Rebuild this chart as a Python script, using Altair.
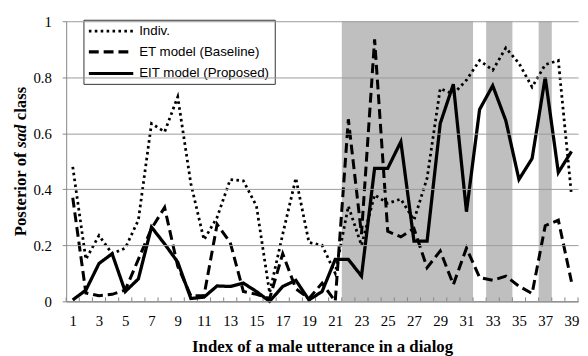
import altair as alt
import pandas as pd

# ---- data ----
idx = list(range(1, 40))
indiv = [0.48, 0.15, 0.235, 0.17, 0.19, 0.29, 0.635, 0.605, 0.73, 0.42,
         0.22, 0.30, 0.435, 0.43, 0.34, 0.03, 0.24, 0.44, 0.21, 0.20,
         0.10, 0.34, 0.20, 0.38, 0.35, 0.365, 0.29, 0.44, 0.76, 0.74,
         0.79, 0.86, 0.825, 0.905, 0.85, 0.765, 0.845, 0.86, 0.38]
et = [0.37, 0.03, 0.02, 0.025, 0.04, 0.15, 0.26, 0.335, 0.125, 0.02,
      0.02, 0.275, 0.21, 0.035, 0.025, 0.01, 0.17, 0.045, 0.01, 0.065,
      0.0, 0.65, 0.24, 0.935, 0.25, 0.23, 0.26, 0.12, 0.18, 0.06,
      0.19, 0.085, 0.075, 0.09, 0.054, 0.028, 0.27, 0.29, 0.07]
eit = [0.005, 0.04, 0.135, 0.17, 0.035, 0.08, 0.265, 0.205, 0.14, 0.01,
       0.015, 0.055, 0.053, 0.065, 0.035, 0.0, 0.053, 0.075, 0.005, 0.035,
       0.15, 0.15, 0.09, 0.475, 0.475, 0.57, 0.215, 0.215, 0.635, 0.775,
       0.32, 0.685, 0.77, 0.645, 0.435, 0.51, 0.80, 0.46, 0.535]
series_names = ["Indiv.", "ET model (Baseline)", "EIT model (Proposed)"]
shade_start = [22, 33, 37]
shade_end = [31, 34, 37]
x_label_values = list(range(1, 40, 2))
y_tick_values = [0, 0.2, 0.4, 0.6, 0.8, 1.0]

W, H = 519, 284
dash_styles = [[2.6, 3.4], [10, 5], [1, 0]]
stroke_widths = [2.8, 3.3, 3]

df = pd.DataFrame({
    "idx": idx * 3,
    "value": indiv + et + eit,
    "series": [n for n in series_names for _ in idx],
})
shade_df = pd.DataFrame({"start": [s - 0.5 for s in shade_start],
                         "end": [e + 0.5 for e in shade_end]})
tick_df = pd.DataFrame({"b": [i + 0.5 for i in range(0, 40)]})

xscale = alt.Scale(domain=[0.5, 39.5], nice=False, zero=False)
yscale = alt.Scale(domain=[0, 1], nice=False)

x_axis = alt.Axis(values=x_label_values, format="d",
                  title="Index of a male utterance in a dialog",
                  ticks=False, grid=False, labelFlush=False, labelOverlap=False,
                  labelFont="Liberation Serif", labelFontSize=15, labelPadding=13,
                  labelColor="black", titleFont="Liberation Serif", titleFontSize=17,
                  titleFontWeight="bold", titleColor="black",
                  titleBaseline="alphabetic", titleY=51,
                  domainColor="#868686", domainWidth=1.5)
y_axis = alt.Axis(values=y_tick_values, format=".1~f", title=None,
                  grid=True, gridColor="#9a9a9a", gridWidth=1,
                  ticks=True, tickSize=4, tickColor="#868686",
                  labelFont="Liberation Serif", labelFontSize=15, labelPadding=11,
                  labelColor="black", domainColor="#868686", domainWidth=1,
                  zindex=1)

shade = alt.Chart(shade_df).mark_rect(color="#bfbfbf").encode(
    x=alt.X("start:Q", scale=xscale, axis=x_axis),
    x2="end:Q",
    y=alt.value(0), y2=alt.value(H),
)

ticks = alt.Chart(tick_df).mark_rule(color="#868686", strokeWidth=1).encode(
    x=alt.X("b:Q", scale=xscale, axis=x_axis),
    y=alt.value(H), y2=alt.value(H - 4),
)

lines = alt.Chart(df).mark_line(color="black").encode(
    x=alt.X("idx:Q", scale=xscale, axis=x_axis),
    y=alt.Y("value:Q", scale=yscale, axis=y_axis),
    strokeDash=alt.StrokeDash("series:N", scale=alt.Scale(domain=series_names, range=dash_styles), legend=None),
    strokeWidth=alt.StrokeWidth("series:N", scale=alt.Scale(domain=series_names, range=stroke_widths), legend=None),
)

# ---- manual legend ----
legend_box = alt.Chart(pd.DataFrame({"a": [0]})).mark_rect(
    fill="white", stroke="#333333", strokeWidth=1).encode(
    x=alt.value(18), x2=alt.value(212), y=alt.value(-1), y2=alt.value(64))

row_y = [10, 31, 53]
legend_layers = []
for i, name in enumerate(series_names):
    d = pd.DataFrame({"name": [name]})
    legend_layers.append(
        alt.Chart(d).mark_rule(color="black", strokeDash=dash_styles[i],
                               strokeWidth=stroke_widths[i]).encode(
            x=alt.value(23), x2=alt.value(68), y=alt.value(row_y[i])))
    legend_layers.append(
        alt.Chart(d).mark_text(align="left", baseline="middle", font="Liberation Sans",
                               fontSize=13.5, color="black").encode(
            x=alt.value(74), y=alt.value(row_y[i]), text="name:N"))

# ---- y-axis title with italic "sad" ----
title_parts = ["Posterior of", "sad", "class"]
title_styles = ["normal", "italic", "normal"]
title_pos = [218, 128.3, 100.4]
title_layers = []
for t, st, py in zip(title_parts, title_styles, title_pos):
    title_layers.append(
        alt.Chart(pd.DataFrame({"t": [t]})).mark_text(
            align="left", baseline="alphabetic", angle=270, font="Liberation Serif",
            fontSize=17, fontWeight="bold", fontStyle=st, color="black").encode(
            x=alt.value(-41), y=alt.value(py), text="t:N"))

chart = alt.layer(shade, ticks, lines, legend_box, *legend_layers, *title_layers).properties(
    width=W, height=H,
    autosize=alt.AutoSizeParams(type="none"),
    padding={"left": 59, "top": 11, "right": 2, "bottom": 53},
    background="white",
).configure_view(stroke=None)

chart.save("out.html", embed_options={"renderer": "svg", "actions": False})
